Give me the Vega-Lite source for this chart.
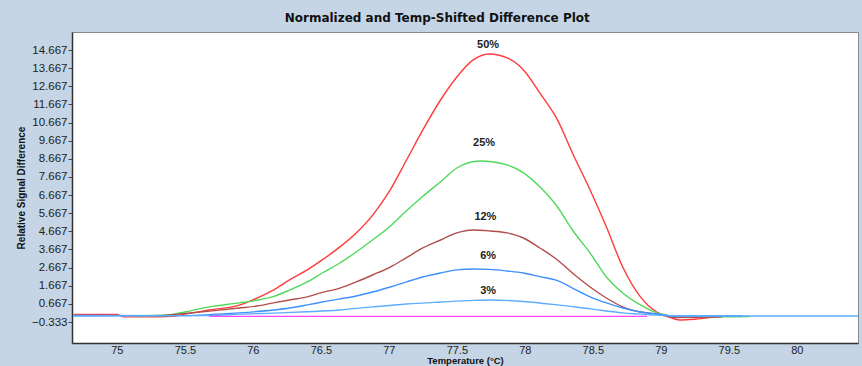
{
  "$schema": "https://vega.github.io/schema/vega-lite/v6.json",
  "width": 786,
  "height": 311,
  "autosize": {"type": "none"},
  "padding": {"left": 72, "top": 32, "right": 4, "bottom": 23},
  "background": "#c5d5e5",
  "title": {
    "text": "Normalized and Temp-Shifted Difference Plot",
    "fontSize": 12,
    "fontWeight": "bold",
    "font": "DejaVu Sans",
    "color": "#111",
    "anchor": "middle",
    "frame": "bounds",
    "offset": 7
  },
  "config": {
    "view": {"fill": "white", "stroke": "#8a8a8a", "strokeWidth": 1},
    "axis": {"labelFont": "Liberation Sans", "titleFont": "Liberation Sans", "labelColor": "#222", "titleColor": "#111", "grid": false, "domainColor": "#333", "tickColor": "#444", "labelOverlap": false}
  },
  "datasets": {
    "curves": [
      {"s": "50%", "t": 74.68, "v": 0.08}, {"s": "50%", "t": 75.0, "v": 0.08}, {"s": "50%", "t": 75.05, "v": -0.05}, {"s": "50%", "t": 75.2, "v": -0.05}, {"s": "50%", "t": 75.4, "v": -0.02}, {"s": "50%", "t": 75.5, "v": 0.1}, {"s": "50%", "t": 75.68, "v": 0.33}, {"s": "50%", "t": 75.9, "v": 0.6}, {"s": "50%", "t": 76.03, "v": 0.99}, {"s": "50%", "t": 76.15, "v": 1.43}, {"s": "50%", "t": 76.27, "v": 1.99}, {"s": "50%", "t": 76.4, "v": 2.54}, {"s": "50%", "t": 76.51, "v": 3.09}, {"s": "50%", "t": 76.64, "v": 3.81}, {"s": "50%", "t": 76.76, "v": 4.58}, {"s": "50%", "t": 76.88, "v": 5.55}, {"s": "50%", "t": 77.01, "v": 6.95}, {"s": "50%", "t": 77.13, "v": 8.6}, {"s": "50%", "t": 77.25, "v": 10.26}, {"s": "50%", "t": 77.38, "v": 11.91}, {"s": "50%", "t": 77.5, "v": 13.18}, {"s": "50%", "t": 77.62, "v": 14.12}, {"s": "50%", "t": 77.74, "v": 14.45}, {"s": "50%", "t": 77.87, "v": 14.23}, {"s": "50%", "t": 77.99, "v": 13.57}, {"s": "50%", "t": 78.11, "v": 12.3}, {"s": "50%", "t": 78.24, "v": 10.81}, {"s": "50%", "t": 78.35, "v": 8.99}, {"s": "50%", "t": 78.48, "v": 6.95}, {"s": "50%", "t": 78.6, "v": 4.91}, {"s": "50%", "t": 78.72, "v": 2.7}, {"s": "50%", "t": 78.85, "v": 1.05}, {"s": "50%", "t": 78.97, "v": 0.22}, {"s": "50%", "t": 79.04, "v": 0.0}, {"s": "50%", "t": 79.14, "v": -0.22}, {"s": "50%", "t": 79.26, "v": -0.17}, {"s": "50%", "t": 79.41, "v": -0.05}, {"s": "50%", "t": 79.5, "v": 0.0},

      {"s": "25%", "t": 75.15, "v": 0.0}, {"s": "25%", "t": 75.37, "v": 0.05}, {"s": "25%", "t": 75.5, "v": 0.22}, {"s": "25%", "t": 75.68, "v": 0.5}, {"s": "25%", "t": 75.9, "v": 0.72}, {"s": "25%", "t": 76.03, "v": 0.87}, {"s": "25%", "t": 76.15, "v": 1.07}, {"s": "25%", "t": 76.27, "v": 1.43}, {"s": "25%", "t": 76.4, "v": 1.88}, {"s": "25%", "t": 76.51, "v": 2.37}, {"s": "25%", "t": 76.64, "v": 2.92}, {"s": "25%", "t": 76.76, "v": 3.53}, {"s": "25%", "t": 76.88, "v": 4.19}, {"s": "25%", "t": 77.01, "v": 4.95}, {"s": "25%", "t": 77.13, "v": 5.8}, {"s": "25%", "t": 77.25, "v": 6.6}, {"s": "25%", "t": 77.38, "v": 7.4}, {"s": "25%", "t": 77.5, "v": 8.16}, {"s": "25%", "t": 77.67, "v": 8.55}, {"s": "25%", "t": 77.87, "v": 8.33}, {"s": "25%", "t": 77.99, "v": 7.89}, {"s": "25%", "t": 78.11, "v": 7.12}, {"s": "25%", "t": 78.24, "v": 6.01}, {"s": "25%", "t": 78.35, "v": 4.74}, {"s": "25%", "t": 78.48, "v": 3.47}, {"s": "25%", "t": 78.6, "v": 2.15}, {"s": "25%", "t": 78.72, "v": 1.27}, {"s": "25%", "t": 78.85, "v": 0.61}, {"s": "25%", "t": 78.97, "v": 0.17}, {"s": "25%", "t": 79.04, "v": 0.05}, {"s": "25%", "t": 79.15, "v": -0.05}, {"s": "25%", "t": 79.65, "v": -0.03},

      {"s": "12%", "t": 75.3, "v": 0.0}, {"s": "12%", "t": 75.45, "v": 0.1}, {"s": "12%", "t": 75.68, "v": 0.27}, {"s": "12%", "t": 75.9, "v": 0.44}, {"s": "12%", "t": 76.03, "v": 0.55}, {"s": "12%", "t": 76.15, "v": 0.72}, {"s": "12%", "t": 76.27, "v": 0.88}, {"s": "12%", "t": 76.4, "v": 1.05}, {"s": "12%", "t": 76.51, "v": 1.3}, {"s": "12%", "t": 76.64, "v": 1.54}, {"s": "12%", "t": 76.76, "v": 1.88}, {"s": "12%", "t": 76.88, "v": 2.26}, {"s": "12%", "t": 77.01, "v": 2.7}, {"s": "12%", "t": 77.13, "v": 3.22}, {"s": "12%", "t": 77.25, "v": 3.75}, {"s": "12%", "t": 77.38, "v": 4.19}, {"s": "12%", "t": 77.5, "v": 4.58}, {"s": "12%", "t": 77.62, "v": 4.74}, {"s": "12%", "t": 77.74, "v": 4.69}, {"s": "12%", "t": 77.87, "v": 4.58}, {"s": "12%", "t": 77.99, "v": 4.3}, {"s": "12%", "t": 78.11, "v": 3.75}, {"s": "12%", "t": 78.24, "v": 3.09}, {"s": "12%", "t": 78.35, "v": 2.37}, {"s": "12%", "t": 78.48, "v": 1.6}, {"s": "12%", "t": 78.6, "v": 0.99}, {"s": "12%", "t": 78.72, "v": 0.5}, {"s": "12%", "t": 78.85, "v": 0.22}, {"s": "12%", "t": 78.97, "v": 0.11}, {"s": "12%", "t": 79.1, "v": -0.08}, {"s": "12%", "t": 79.45, "v": -0.05},

      {"s": "6%", "t": 74.68, "v": 0.03}, {"s": "6%", "t": 75.5, "v": 0.02}, {"s": "6%", "t": 75.7, "v": 0.08}, {"s": "6%", "t": 75.9, "v": 0.17}, {"s": "6%", "t": 76.15, "v": 0.33}, {"s": "6%", "t": 76.27, "v": 0.44}, {"s": "6%", "t": 76.4, "v": 0.61}, {"s": "6%", "t": 76.51, "v": 0.77}, {"s": "6%", "t": 76.64, "v": 0.94}, {"s": "6%", "t": 76.76, "v": 1.1}, {"s": "6%", "t": 76.88, "v": 1.32}, {"s": "6%", "t": 77.01, "v": 1.6}, {"s": "6%", "t": 77.13, "v": 1.88}, {"s": "6%", "t": 77.25, "v": 2.15}, {"s": "6%", "t": 77.38, "v": 2.37}, {"s": "6%", "t": 77.5, "v": 2.54}, {"s": "6%", "t": 77.62, "v": 2.59}, {"s": "6%", "t": 77.74, "v": 2.57}, {"s": "6%", "t": 77.87, "v": 2.48}, {"s": "6%", "t": 77.99, "v": 2.37}, {"s": "6%", "t": 78.11, "v": 2.17}, {"s": "6%", "t": 78.24, "v": 1.95}, {"s": "6%", "t": 78.35, "v": 1.54}, {"s": "6%", "t": 78.48, "v": 1.05}, {"s": "6%", "t": 78.6, "v": 0.72}, {"s": "6%", "t": 78.72, "v": 0.44}, {"s": "6%", "t": 78.85, "v": 0.22}, {"s": "6%", "t": 78.97, "v": 0.11}, {"s": "6%", "t": 79.1, "v": 0.0}, {"s": "6%", "t": 79.6, "v": 0.0},

      {"s": "3%", "t": 74.68, "v": 0.0}, {"s": "3%", "t": 75.7, "v": 0.02}, {"s": "3%", "t": 75.9, "v": 0.1}, {"s": "3%", "t": 76.15, "v": 0.16}, {"s": "3%", "t": 76.4, "v": 0.23}, {"s": "3%", "t": 76.64, "v": 0.33}, {"s": "3%", "t": 76.88, "v": 0.5}, {"s": "3%", "t": 77.13, "v": 0.66}, {"s": "3%", "t": 77.38, "v": 0.77}, {"s": "3%", "t": 77.62, "v": 0.86}, {"s": "3%", "t": 77.74, "v": 0.88}, {"s": "3%", "t": 77.99, "v": 0.8}, {"s": "3%", "t": 78.24, "v": 0.61}, {"s": "3%", "t": 78.48, "v": 0.39}, {"s": "3%", "t": 78.72, "v": 0.17}, {"s": "3%", "t": 78.97, "v": 0.05}, {"s": "3%", "t": 79.1, "v": 0.0}, {"s": "3%", "t": 80.45, "v": 0.0},

      {"s": "0%", "t": 75.68, "v": -0.02}, {"s": "0%", "t": 78.9, "v": -0.02}
    ],
    "labels": [
      {"lab": "50%", "t": 77.73, "v": 14.95},
      {"lab": "25%", "t": 77.7, "v": 9.54},
      {"lab": "12%", "t": 77.71, "v": 5.46},
      {"lab": "6%", "t": 77.73, "v": 3.31},
      {"lab": "3%", "t": 77.73, "v": 1.38}
    ]
  },
  "encoding": {
    "x": {
      "field": "t", "type": "quantitative",
      "scale": {"domain": [74.67, 80.45], "nice": false, "zero": false},
      "axis": {
        "title": "Temperature (°C)",
        "values": [75, 75.5, 76, 76.5, 77, 77.5, 78, 78.5, 79, 79.5, 80],
        "format": ".1~f",
        "ticks": false, "tickSize": 0,
        "labelFontSize": 11, "labelPadding": 1,
        "titleFontSize": 9.5, "titleFontWeight": "bold", "titlePadding": 0,
        "domainWidth": 1.5
      }
    },
    "y": {
      "field": "v", "type": "quantitative",
      "scale": {"domain": [-1.49, 15.66], "nice": false, "zero": false},
      "axis": {
        "title": "Relative Signal Difference",
        "values": [-0.333, 0.667, 1.667, 2.667, 3.667, 4.667, 5.667, 6.667, 7.667, 8.667, 9.667, 10.667, 11.667, 12.667, 13.667, 14.667],
        "format": ".3f",
        "labelOverlap": false,
        "labelBound": false,
        "labelFlush": false,
        "tickSize": 4, "labelPadding": 1,
        "labelFontSize": 11.5,
        "titleFontSize": 10, "titleFontWeight": "bold", "titlePadding": 5,
        "domainWidth": 1.5
      }
    }
  },
  "layer": [
    {
      "data": {"name": "curves"},
      "mark": {"type": "line", "strokeWidth": 1.4, "clip": true, "interpolate": "monotone"},
      "encoding": {
        "color": {
          "field": "s", "type": "nominal", "legend": null,
          "scale": {
            "domain": ["0%", "50%", "25%", "12%", "6%", "3%"],
            "range": ["#ff44ff", "#ff3b3b", "#4ed95a", "#b24e4e", "#3f90ff", "#5cadff"]
          }
        },
        "order": {"field": "t", "type": "quantitative"}
      }
    },
    {
      "data": {"name": "labels"},
      "mark": {"type": "text", "font": "Liberation Sans", "fontSize": 11, "fontWeight": "bold", "color": "#222"},
      "encoding": {
        "text": {"field": "lab"}
      }
    }
  ]
}
